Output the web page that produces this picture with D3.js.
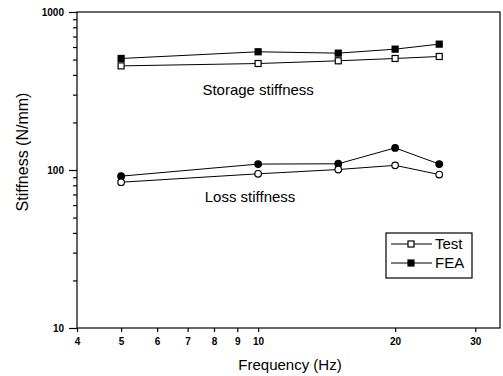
<!DOCTYPE html>
<html>
<head>
<meta charset="utf-8">
<script src="https://cdn.jsdelivr.net/npm/d3@7"></script>
<style>
body { margin: 0; background: #fff; }
svg { font-family: "Liberation Sans", Arial, sans-serif; }
</style>
</head>
<body>
<svg width="503" height="376"></svg>
<script>
var freq = [5, 10, 15, 20, 25];
var storageTest = [456, 472, 491, 508, 523];
var storageFEA = [508, 560, 549, 582, 626];
var lossTest = [83.7, 94.6, 100.7, 107, 93.6];
var lossFEA = [91.4, 109, 109.5, 138, 109];
var xTicks = [4, 5, 6, 7, 8, 9, 10, 20, 30];
var yTicks = [10, 100, 1000];

var svg = d3.select("svg");
var margin = {top: 12, right: 3, bottom: 48, left: 77},
	width = +svg.attr("width") - margin.left - margin.right,
	height = +svg.attr("height") - margin.top - margin.bottom,
	g = svg.append("g").attr("transform", "translate(" + margin.left + "," + margin.top + ")");

var x = d3.scaleLog().domain([4, 34]).range([0, width]);
var y = d3.scaleLog().domain([10, 1000]).range([height, 0]);

// frame
g.append("rect")
	.attr("width", width)
	.attr("height", height)
	.attr("fill", "none")
	.attr("stroke", "#000")
	.attr("stroke-width", 1.2);

// x axis
var xAxis = g.append("g")
	.attr("transform", "translate(0," + height + ")")
	.call(d3.axisBottom(x).tickValues(xTicks).tickFormat(d3.format("d")).tickSize(4).tickSizeOuter(0));
xAxis.select(".domain").remove();
xAxis.selectAll("text")
	.attr("dy", "0.95em")
	.style("font-size", "10px")
	.style("font-weight", "bold");

// y axis
var yMinor = [];
[10, 100].forEach(function (b) {
	for (var i = 2; i <= 9; i++) yMinor.push(b * i);
});
var yAxisMinor = g.append("g")
	.call(d3.axisLeft(y).tickValues(yMinor).tickFormat("").tickSize(4).tickSizeOuter(0));
yAxisMinor.select(".domain").remove();

var yAxis = g.append("g")
	.call(d3.axisLeft(y).tickValues(yTicks).tickFormat(d3.format("d")).tickSize(8).tickSizeOuter(0));
yAxis.select(".domain").remove();
yAxis.selectAll("text")
	.attr("x", -13)
	.style("font-size", "10px")
	.style("font-weight", "bold");

g.selectAll(".tick line").attr("stroke-width", 1.2);

// axis titles
svg.append("text")
	.attr("transform", "translate(28," + (margin.top + y(130)) + ") rotate(-90)")
	.attr("text-anchor", "middle")
	.style("font-size", "16px")
	.text("Stiffness (N/mm)");

svg.append("text")
	.attr("x", 290)
	.attr("y", 370)
	.attr("text-anchor", "middle")
	.style("font-size", "15px")
	.text("Frequency (Hz)");

var line = d3.line()
	.x(function (d) { return x(d[0]); })
	.y(function (d) { return y(d[1]); });

function series(vals, shape, filled) {
	var pts = freq.map(function (f, i) { return [f, vals[i]]; });
	g.append("path")
		.datum(pts)
		.attr("d", line)
		.attr("fill", "none")
		.attr("stroke", "#000")
		.attr("stroke-width", 1);
	if (shape === "square") {
		g.selectAll(null)
			.data(pts)
			.enter().append("rect")
			.attr("x", function (d) { return x(d[0]) - 3; })
			.attr("y", function (d) { return y(d[1]) - 3; })
			.attr("width", 6)
			.attr("height", 6)
			.attr("fill", filled ? "#000" : "#fff")
			.attr("stroke", "#000")
			.attr("stroke-width", 1.2);
	} else {
		g.selectAll(null)
			.data(pts)
			.enter().append("circle")
			.attr("cx", function (d) { return x(d[0]); })
			.attr("cy", function (d) { return y(d[1]); })
			.attr("r", 3.3)
			.attr("fill", filled ? "#000" : "#fff")
			.attr("stroke", "#000")
			.attr("stroke-width", 1.2);
	}
}

series(storageFEA, "square", true);
series(storageTest, "square", false);
series(lossFEA, "circle", true);
series(lossTest, "circle", false);

// annotations
g.append("text")
	.attr("x", x(10))
	.attr("y", y(300))
	.attr("text-anchor", "middle")
	.style("font-size", "15px")
	.text("Storage stiffness");

g.append("text")
	.attr("x", x(9.6))
	.attr("y", y(63))
	.attr("text-anchor", "middle")
	.style("font-size", "15px")
	.text("Loss stiffness");

// legend
var legend = svg.append("g").attr("transform", "translate(386,233)");
legend.append("rect")
	.attr("width", 86)
	.attr("height", 45)
	.attr("fill", "#fff")
	.attr("stroke", "#000")
	.attr("stroke-width", 1.2);
var legendItems = [{name: "Test", filled: false}, {name: "FEA", filled: true}];
legendItems.forEach(function (d, i) {
	var ly = 11 + i * 19;
	legend.append("line")
		.attr("x1", 5).attr("x2", 46)
		.attr("y1", ly).attr("y2", ly)
		.attr("stroke", "#000");
	legend.append("rect")
		.attr("x", 22).attr("y", ly - 3)
		.attr("width", 6).attr("height", 6)
		.attr("fill", d.filled ? "#000" : "#fff")
		.attr("stroke", "#000")
		.attr("stroke-width", 1.2);
	legend.append("text")
		.attr("x", 49)
		.attr("y", ly + 5)
		.style("font-size", "15px")
		.text(d.name);
});
</script>
</body>
</html>
